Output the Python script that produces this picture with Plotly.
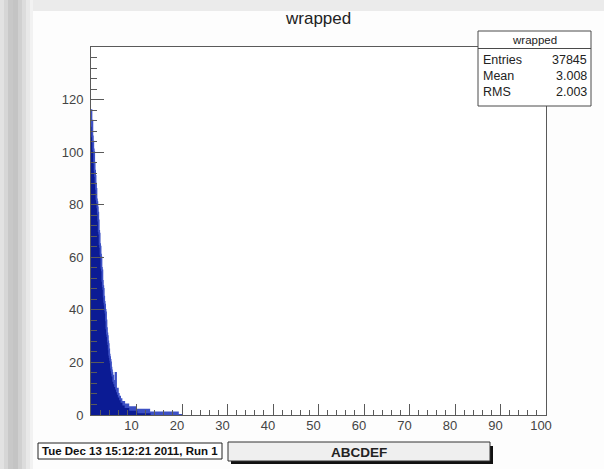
import numpy as np
import plotly.graph_objects as go

# ---------------- data ----------------
title_text = "wrapped"
bin_width = 0.1
bin_start = 0.0
counts = [
    116, 110, 112, 106, 104, 101, 100, 96, 93, 91,
    88, 86, 82, 81, 79, 77, 74, 70, 69, 65,
    64, 61, 60, 56, 55, 51, 49, 48, 45, 43,
    42, 40, 39, 36, 33, 31, 30, 28, 27, 25,
    23, 22, 21, 20, 18, 17, 16, 15, 15, 13,
    13, 12, 12, 11, 16, 10, 10, 9, 10, 8,
    8, 7, 7, 7, 6, 6, 6, 5, 5, 5,
    5, 4, 5, 4, 4, 4, 3, 4, 3, 3,
    3, 4, 3, 3, 3, 3, 2, 3, 3, 3,
    2, 3, 2, 3, 2, 2, 2, 3, 2, 2,
    2, 2, 2, 2, 1, 2, 2, 2, 1, 2,
    2, 1, 2, 1, 2, 1, 1, 2, 1, 1,
    1, 1, 2, 1, 1, 1, 1, 2, 1, 1,
    1, 1, 1, 0, 1, 1, 1, 1, 0, 1,
    1, 0, 1, 1, 0, 1, 1, 0, 1, 0,
    1, 1, 0, 1, 0, 1, 0, 1, 0, 1,
    0, 1, 0, 0, 1, 0, 1, 0, 0, 1,
    0, 0, 1, 0, 0, 1, 0, 0, 1, 0,
    0, 1, 0, 0, 0, 1, 0, 0, 0, 0,
    1, 0, 0, 0, 0, 0, 0, 0, 0, 0,
]
x_tick_vals = [10, 20, 30, 40, 50, 60, 70, 80, 90, 100]
x_tick_text = ["10", "20", "30", "40", "50", "60", "70", "80", "90", "100"]
y_tick_vals = [0, 20, 40, 60, 80, 100, 120]
y_tick_text = ["0", "20", "40", "60", "80", "100", "120"]
stats_labels = ["Entries", "Mean", "RMS"]
stats_values = ["37845", "3.008", "2.003"]
date_text = "Tue Dec 13 15:12:21 2011, Run 1"
pave_text = "ABCDEF"

# ---------------- layout geometry ----------------
W, H = 604, 469
L, R, T, B = 91, 546, 47, 415  # plot frame in pixels


def px(x):
    return (x - L) / (R - L)


def py(y):
    return (B - y) / (B - T)


edges = bin_start + bin_width * np.arange(len(counts) + 1)
xs = list(edges)
ys = list(counts) + [counts[-1]]

FONT = "Liberation Sans, Arial, Helvetica, sans-serif"

fig = go.Figure()
fig.add_trace(go.Scatter(
    x=xs, y=ys, mode="lines", line=dict(shape="hv", color="#3c50c4", width=1.8),
    fill="tozeroy", fillcolor="#0b1b94", hoverinfo="skip", showlegend=False,
))

shapes = []
# background decoration
shapes.append(dict(type="rect", xref="paper", yref="paper", x0=px(0), x1=px(W), y0=py(0), y1=py(11),
                   fillcolor="#ebebeb", line=dict(width=0), layer="below"))
left_strip = [(0, 4, "#e2e2e2"), (4, 8, "#d6d6d6"), (8, 13, "#c8c8c8"), (13, 18, "#c4c4c4"),
              (18, 22, "#d0d0d0"), (22, 26, "#dcdcdc"), (26, 30, "#e8e8e8"), (30, 33, "#f2f2f2")]
for a, b, c in left_strip:
    shapes.append(dict(type="rect", xref="paper", yref="paper", x0=px(a), x1=px(b), y0=py(0), y1=py(H),
                       fillcolor=c, line=dict(width=0), layer="below"))

# stats box
shapes.append(dict(type="rect", xref="paper", yref="paper", x0=px(478), x1=px(591), y0=py(31), y1=py(106),
                   fillcolor="white", line=dict(color="#4a4a4a", width=1), layer="above"))
shapes.append(dict(type="line", xref="paper", yref="paper", x0=px(478), x1=px(591), y0=py(48.5), y1=py(48.5),
                   line=dict(color="#4a4a4a", width=1), layer="above"))
# date box
shapes.append(dict(type="rect", xref="paper", yref="paper", x0=px(38), x1=px(222), y0=py(443), y1=py(459),
                   fillcolor="white", line=dict(color="#222222", width=1), layer="above"))
# ABCDEF pave with shadow
shapes.append(dict(type="rect", xref="paper", yref="paper", x0=px(231), x1=px(493), y0=py(446), y1=py(464),
                   fillcolor="#111111", line=dict(width=0), layer="above"))
shapes.append(dict(type="rect", xref="paper", yref="paper", x0=px(228), x1=px(490), y0=py(442), y1=py(461),
                   fillcolor="#efefef", line=dict(color="#333333", width=1), layer="above"))

annotations = []
annotations.append(dict(xref="paper", yref="paper", x=px(318), y=py(18), text=title_text, showarrow=False,
                        xanchor="center", yanchor="middle", font=dict(family=FONT, size=17, color="#222222")))
annotations.append(dict(xref="paper", yref="paper", x=px(534.5), y=py(40), text=title_text, showarrow=False,
                        xanchor="center", yanchor="middle", font=dict(family=FONT, size=11.5, color="#222222")))
rows_y = [60, 76, 92]
for lab, val, yy in zip(stats_labels, stats_values, rows_y):
    annotations.append(dict(xref="paper", yref="paper", x=px(481), y=py(yy), text=lab, showarrow=False,
                            xanchor="left", yanchor="middle", font=dict(family=FONT, size=12.5, color="#222222")))
    annotations.append(dict(xref="paper", yref="paper", x=px(589), y=py(yy), text=val, showarrow=False,
                            xanchor="right", yanchor="middle", font=dict(family=FONT, size=12.5, color="#222222")))
annotations.append(dict(xref="paper", yref="paper", x=px(130), y=py(451), text="<b>" + date_text + "</b>",
                        showarrow=False, xanchor="center", yanchor="middle",
                        font=dict(family=FONT, size=11.5, color="#111111")))
annotations.append(dict(xref="paper", yref="paper", x=px(359), y=py(452), text="<b>" + pave_text + "</b>",
                        showarrow=False, xanchor="center", yanchor="middle",
                        font=dict(family=FONT, size=13.5, color="#222222")))

axis_common = dict(
    showline=True, linecolor="#5a5a5a", linewidth=1, mirror=True,
    showgrid=False, zeroline=False, ticks="inside", tickcolor="#5a5a5a",
    tickfont=dict(family=FONT, size=13, color="#444444"),
)

fig.update_layout(
    width=W, height=H,
    margin=dict(l=L, r=W - R, t=T, b=H - B, pad=0),
    paper_bgcolor="#fdfdfd", plot_bgcolor="white",
    shapes=shapes, annotations=annotations, showlegend=False,
    xaxis=dict(axis_common, range=[0, 100], tickvals=x_tick_vals, ticktext=x_tick_text,
               ticklen=11, tickwidth=1, ticklabelshift=-5, ticklabelstandoff=-2,
               minor=dict(ticks="inside", ticklen=5, dtick=2, tick0=0, tickcolor="#5a5a5a")),
    yaxis=dict(axis_common, range=[0, 140], tickvals=y_tick_vals, ticktext=y_tick_text,
               ticklen=13, tickwidth=1, ticklabelstandoff=4,
               minor=dict(ticks="inside", ticklen=6, dtick=4, tick0=0, tickcolor="#5a5a5a")),
)

fig.write_html(
    "out.html",
    config={"displayModeBar": False},
    post_script="document.body.style.margin='0';document.body.style.padding='0';"
                "document.body.style.overflow='hidden';",
)
